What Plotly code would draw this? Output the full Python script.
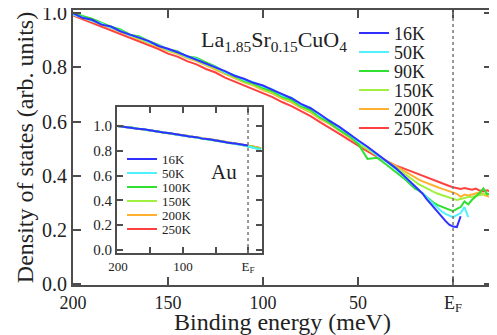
import plotly.graph_objects as go

FONT = "Liberation Serif, Times New Roman, serif"
TXT = "#222222"
AX = "#4d4d4d"

# ---------------- main data: La1.85Sr0.15CuO4 ----------------
energy = [200, 195, 190, 185, 180, 175, 170, 165, 160, 155, 150, 145, 140, 135, 130,
          125, 120, 115, 110, 105, 100, 95, 90, 85, 80, 75, 70, 65, 60, 55, 50, 45,
          40, 35, 30, 25, 20,
          18, 16, 14, 12, 10, 8, 6, 4, 2, 0, -2, -4, -6, -8, -10, -12, -14, -16, -18, -20]

labels_main = ["16K", "50K", "90K", "150K", "200K", "250K"]
colors = ["#3030ff", "#50f0ff", "#30e030", "#a0f040", "#ffb030", "#ff4040"]

dos_16K = [1.000, 0.983, 0.976, 0.958, 0.951, 0.933, 0.921, 0.909, 0.897, 0.879, 0.869, 0.856, 0.842, 0.830, 0.815,
           0.801, 0.786, 0.769, 0.758, 0.743, 0.733, 0.717, 0.701, 0.686, 0.665, 0.649, 0.627, 0.602, 0.581, 0.555, 0.531, 0.507,
           0.480, 0.455, 0.427, 0.394, 0.361,
           0.347, 0.333, 0.314, 0.297, 0.282, 0.266, 0.249, 0.233, 0.219, 0.212, 0.210, 0.250,
           None, None, None, None, None, None, None, None]
dos_50K = [0.995, 0.985, 0.972, 0.962, 0.946, 0.936, 0.918, 0.911, 0.893, 0.882, 0.866, 0.858, 0.838, 0.832, 0.812,
           0.803, 0.782, 0.771, 0.754, 0.745, 0.729, 0.719, 0.697, 0.688, 0.662, 0.651, 0.622, 0.604, 0.577, 0.556, 0.526, 0.505,
           0.476, 0.452, 0.424, 0.393, 0.362,
           0.350, 0.337, 0.322, 0.306, 0.293, 0.280, 0.268, 0.259, 0.252, 0.247, 0.254, 0.262, 0.284, 0.247,
           None, None, None, None, None, None]
dos_90K = [1.003, 0.990, 0.980, 0.966, 0.950, 0.940, 0.921, 0.914, 0.896, 0.884, 0.866, 0.860, 0.840, 0.836, 0.818,
           0.804, 0.781, 0.768, 0.750, 0.740, 0.724, 0.712, 0.692, 0.680, 0.657, 0.643, 0.616, 0.596, 0.570, 0.548, 0.518, 0.462,
           0.466, 0.440, 0.413, 0.385, 0.352,
           0.345, 0.334, 0.322, 0.311, 0.299, 0.291, 0.286, 0.279, 0.273, 0.269, 0.277, 0.284, 0.305, 0.294,
           0.311, 0.324, 0.336, 0.353, 0.331, 0.336]
dos_150K = [0.998, 0.986, 0.974, 0.961, 0.948, 0.933, 0.919, 0.907, 0.892, 0.880, 0.864, 0.853, 0.837, 0.826, 0.810,
            0.797, 0.779, 0.764, 0.748, 0.736, 0.720, 0.707, 0.689, 0.675, 0.654, 0.638, 0.613, 0.594, 0.568, 0.546, 0.520, 0.498,
            0.474, 0.452, 0.430, 0.404, 0.376,
            0.368, 0.361, 0.353, 0.346, 0.339, 0.333, 0.328, 0.324, 0.318, 0.313, 0.310, 0.314, 0.318, 0.321,
            0.322, 0.326, 0.328, 0.331, 0.333, 0.330]
dos_200K = [0.996, 0.984, 0.971, 0.958, 0.945, 0.931, 0.916, 0.904, 0.889, 0.877, 0.861, 0.850, 0.834, 0.823, 0.807,
            0.794, 0.776, 0.761, 0.745, 0.733, 0.716, 0.703, 0.685, 0.671, 0.650, 0.634, 0.610, 0.591, 0.566, 0.544, 0.519, 0.497,
            0.475, 0.455, 0.435, 0.414, 0.392,
            0.385, 0.379, 0.373, 0.368, 0.362, 0.357, 0.352, 0.347, 0.342, 0.338, 0.333, 0.322, 0.330, 0.327,
            0.331, 0.334, 0.338, 0.330, 0.325, 0.320]
dos_250K = [0.992, 0.978, 0.966, 0.951, 0.938, 0.924, 0.908, 0.896, 0.880, 0.868, 0.851, 0.840, 0.823, 0.811, 0.794,
            0.781, 0.762, 0.748, 0.733, 0.719, 0.705, 0.690, 0.672, 0.657, 0.638, 0.620, 0.598, 0.578, 0.555, 0.533, 0.510, 0.490,
            0.470, 0.452, 0.437, 0.424, 0.410,
            0.405, 0.399, 0.394, 0.388, 0.382, 0.377, 0.372, 0.368, 0.362, 0.357, 0.355, 0.351, 0.354, 0.350,
            0.348, 0.352, 0.345, 0.342, 0.346, 0.340]
main_series = [dos_16K, dos_50K, dos_90K, dos_150K, dos_200K, dos_250K]

main_xticks = [200, 150, 100, 50, 0]
main_xtext = ["200", "150", "100", "50", "E<sub>F</sub>"]

# ---------------- inset data: Au ----------------
energy_au = [200, 190, 180, 170, 160, 150, 140, 130, 120, 110, 100, 90, 80, 70, 60, 50, 40, 30, 20, 10, 0, -10, -20]
labels_au = ["16K", "50K", "100K", "150K", "200K", "250K"]
au_16K = [1.000, 0.991, 0.988, 0.978, 0.973, 0.963, 0.958, 0.947, 0.942, 0.931, 0.926, 0.915, 0.910, 0.898, 0.893, 0.882, 0.876, 0.864, 0.858, 0.847, 0.842, None, None]
au_50K = [0.998, 0.994, 0.985, 0.980, 0.970, 0.966, 0.955, 0.950, 0.939, 0.934, 0.922, 0.918, 0.906, 0.901, 0.889, 0.885, 0.872, 0.867, 0.854, 0.848, 0.836, 0.822, 0.808]
au_100K = [1.002, 0.992, 0.989, 0.977, 0.974, 0.962, 0.959, 0.946, 0.943, 0.930, 0.927, 0.914, 0.911, 0.897, 0.894, 0.881, 0.877, 0.863, 0.859, 0.846, 0.838, 0.826, 0.812]
au_150K = [0.999, 0.993, 0.986, 0.979, 0.971, 0.964, 0.956, 0.948, 0.940, 0.932, 0.924, 0.916, 0.908, 0.899, 0.891, 0.883, 0.874, 0.865, 0.856, 0.848, 0.840, 0.829, 0.816]
au_200K = [1.001, 0.992, 0.988, 0.978, 0.972, 0.965, 0.957, 0.949, 0.941, 0.934, 0.925, 0.918, 0.909, 0.902, 0.893, 0.886, 0.876, 0.868, 0.859, 0.851, 0.842, 0.831, 0.818]
au_250K = [0.997, 0.993, 0.984, 0.980, 0.969, 0.966, 0.954, 0.951, 0.938, 0.936, 0.923, 0.920, 0.907, 0.903, 0.891, 0.888, 0.878, 0.870, 0.861, 0.853, 0.844, 0.833, 0.820]
au_series = [au_16K, au_50K, au_100K, au_150K, au_200K, au_250K]

inset_xticks = [200, 150, 100, 50, 0]
inset_xtext = ["200", "", "100", "", "E<sub>F</sub>"]

# the page body has an 8px margin: the figure is drawn at (8, 8) in the window
OFF = 8
W, H = 497 - OFF, 335 - OFF


def px(x):
    return (x - OFF) / W


def py(y):
    return 1 - (y - OFF) / H


fig = go.Figure()

# main traces (draw 250K first so 16K is on top)
for i in reversed(range(6)):
    fig.add_trace(go.Scatter(x=energy, y=main_series[i], mode="lines", name=labels_main[i],
                             line=dict(color=colors[i], width=2), connectgaps=False,
                             legend="legend" if i == 0 else f"legend{i + 1}",
                             xaxis="x", yaxis="y"))

# inset white panel
fig.add_trace(go.Scatter(x=[400, -200, -200, 400], y=[-2, -2, 3, 3], fill="toself", mode="lines",
                         fillcolor="white", line=dict(width=0, color="white"), showlegend=False,
                         hoverinfo="skip", xaxis="x2", yaxis="y2"))
for i in reversed(range(6)):
    fig.add_trace(go.Scatter(x=energy_au, y=au_series[i], mode="lines", name=labels_au[i],
                             line=dict(color=colors[i], width=2),
                             legend=f"legend{i + 7}", xaxis="x2", yaxis="y2"))

axis_common = dict(showgrid=False, zeroline=False, ticks="inside", mirror="ticks",
                   showline=True, linecolor=AX, linewidth=2, tickcolor=AX, tickwidth=2,
                   ticklabeloverflow="allow")

layout = dict(
    width=W, height=H, template="none",
    margin=dict(l=0, r=0, t=0, b=0, autoexpand=False),
    paper_bgcolor="white", plot_bgcolor="white",
    font=dict(family=FONT, color=TXT),
    xaxis=dict(domain=[px(73), px(492)], range=[200, -20.5], anchor="y",
               tickvals=main_xticks, ticktext=main_xtext, ticklen=8,
               tickfont=dict(size=18, color=TXT, family=FONT),
               title=dict(text="Binding energy (meV)", font=dict(size=24, color=TXT, family=FONT), standoff=0),
               **axis_common),
    yaxis=dict(domain=[py(285), py(10)], range=[-0.004, 1.012], anchor="x",
               tickvals=[0, 0.2, 0.4, 0.6, 0.8, 1.0], tickformat=".1f", ticklen=8,
               tickfont=dict(size=20, color=TXT, family=FONT),
               title=dict(text="Density of states (arb. units)", font=dict(size=24, color=TXT, family=FONT), standoff=2),
               **axis_common),
    xaxis2=dict(domain=[px(117), px(262)], range=[201.5, -21.5], anchor="y2",
                tickvals=inset_xticks, ticktext=inset_xtext, ticklen=6,
                tickfont=dict(size=13, color=TXT, family=FONT), **axis_common),
    yaxis2=dict(domain=[py(253), py(107)], range=[-0.024, 1.153], anchor="x2",
                tickvals=[0, 0.2, 0.4, 0.6, 0.8, 1.0], tickformat=".1f", ticklen=6,
                tickfont=dict(size=15, color=TXT, family=FONT), **axis_common),
    shapes=[
        dict(type="line", xref="x", yref="y domain", x0=0, x1=0, y0=0, y1=1,
             line=dict(color="#777777", width=1.5, dash="dot"), layer="above"),
        dict(type="line", xref="x2", yref="y2 domain", x0=0, x1=0, y0=0, y1=1,
             line=dict(color="#777777", width=1.5, dash="dot"), layer="above"),
    ],
    annotations=[
        dict(text="La<sub>1.85</sub>Sr<sub>0.15</sub>CuO<sub>4</sub>", xref="paper", yref="paper",
             x=px(199), y=py(41), xanchor="left", yanchor="middle", showarrow=False,
             font=dict(size=22, color=TXT, family=FONT)),
        dict(text="Au", xref="paper", yref="paper", x=px(224), y=py(172),
             xanchor="center", yanchor="middle", showarrow=False,
             font=dict(size=21, color=TXT, family=FONT)),
    ],
)


def leg(xp, ytop, size):
    return dict(x=px(xp), y=py(ytop), xanchor="left", yanchor="top",
                bgcolor="rgba(0,0,0,0)", borderwidth=0, itemwidth=30,
                font=dict(size=size, color=TXT, family=FONT))


# legend item centre = box top + itemGap(5) + item height / 2 (item height = 1.3*size + 3)
for i in range(6):
    key = "legend" if i == 0 else f"legend{i + 1}"
    layout[key] = leg(354, 33 + 19 * i - (5 + (1.3 * 18 + 3) / 2), 18)
for i in range(6):
    layout[f"legend{i + 7}"] = leg(122, 159 + 14 * i - (5 + (1.3 * 13 + 3) / 2), 13)

fig.update_layout(**layout)
fig.write_html("out.html")
